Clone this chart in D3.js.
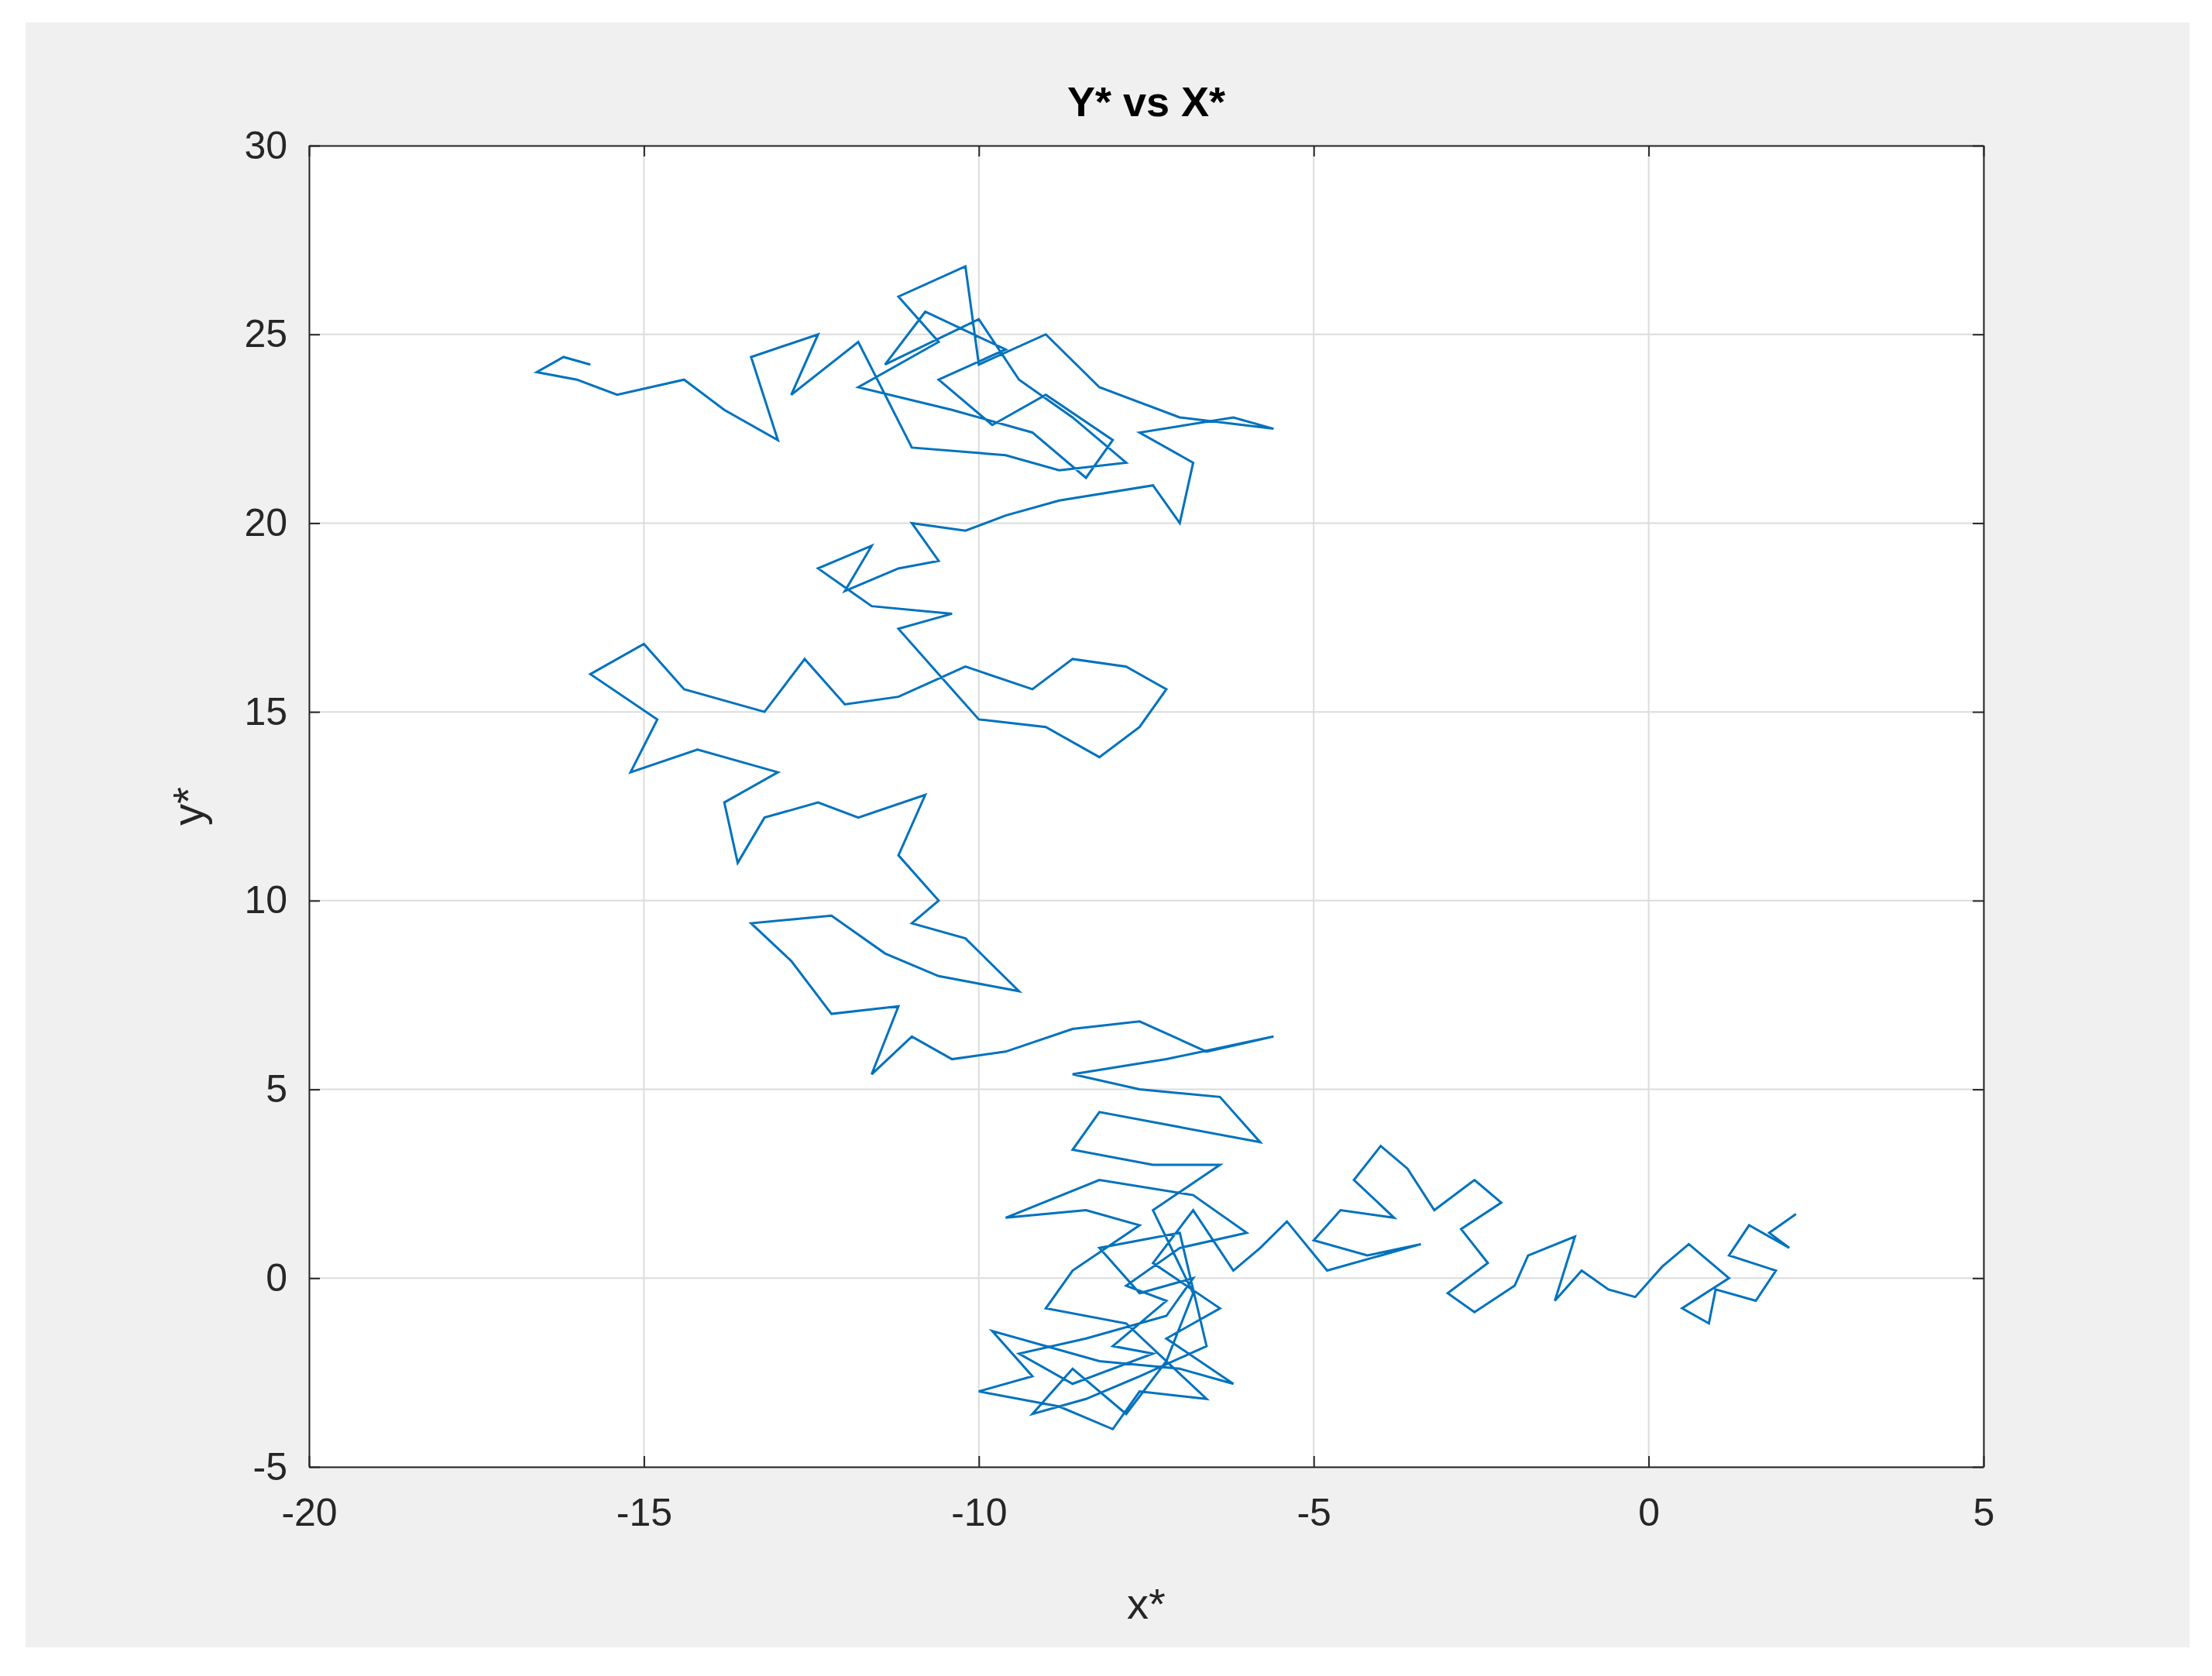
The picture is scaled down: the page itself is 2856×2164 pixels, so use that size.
<!DOCTYPE html><html><head><meta charset="utf-8"><script src="https://cdn.jsdelivr.net/npm/d3@7"></script>
<style>body{margin:0;background:#fff}</style></head><body><svg id="c" width="2856" height="2164"></svg>
<script>
const title="Y* vs X*", xLabel="x*", yLabel="y*";
const xTicks=[-20,-15,-10,-5,0,5], yTicks=[-5,0,5,10,15,20,25,30];
const walk=[[2.2,1.7],[1.8,1.2],[2.1,0.8],[1.5,1.4],[1.2,0.6],[1.9,0.2],[1.6,-0.6],[1.0,-0.3],[0.9,-1.2],[0.5,-0.8],[1.2,0],[0.6,0.9],[0.2,0.3],[-0.2,-0.5],[-0.6,-0.3],[-1.0,0.2],[-1.4,-0.6],[-1.1,1.1],[-1.8,0.6],[-2.0,-0.2],[-2.6,-0.9],[-3.0,-0.4],[-2.4,0.4],[-2.8,1.3],[-2.2,2.0],[-2.6,2.6],[-3.2,1.8],[-3.6,2.9],[-4.0,3.5],[-4.4,2.6],[-3.8,1.6],[-4.6,1.8],[-5.0,1.0],[-4.2,0.6],[-3.4,0.9],[-4.8,0.2],[-5.4,1.5],[-5.8,0.8],[-6.2,0.2],
[-6.8,1.8],[-7.4,0.4],[-6.4,-0.8],[-7.2,-1.6],[-6.2,-2.8],[-7.0,-2.4],[-8.2,-2.2],[-9.8,-1.4],[-9.2,-2.6],[-10.0,-3.0],[-8.8,-3.4],[-8.0,-4.0],[-7.6,-3.0],[-6.6,-3.2],[-7.8,-1.2],[-9.0,-0.8],[-8.6,0.2],[-7.6,1.4],[-8.4,1.8],[-9.6,1.6],[-8.2,2.6],[-6.8,2.2],[-6.0,1.2],
[-7.0,0.8],[-7.8,-0.2],[-7.2,-0.6],[-8.0,-1.8],[-7.4,-2.0],[-8.6,-2.8],[-9.4,-2.0],[-8.4,-1.6],[-7.2,-1.0],[-6.8,0.0],[-7.6,-0.4],[-8.2,0.8],[-7.0,1.2],[-6.6,-1.8],[-7.6,-2.6],[-8.4,-3.2],[-9.2,-3.6],[-8.6,-2.4],[-7.8,-3.6],[-7.2,-2.2],[-6.8,-0.4],[-7.4,1.8],[-6.4,3.0],
[-7.4,3.0],[-8.6,3.4],[-8.2,4.4],[-7.0,4.0],[-5.8,3.6],[-6.4,4.8],[-7.6,5.0],[-8.6,5.4],[-7.2,5.8],[-5.6,6.4],[-6.6,6.0],[-7.6,6.8],[-8.6,6.6],[-9.6,6.0],[-10.4,5.8],[-11.0,6.4],[-11.6,5.4],[-11.2,7.2],[-12.2,7.0],[-12.8,8.4],[-13.4,9.4],[-12.2,9.6],[-11.4,8.6],[-10.6,8.0],[-9.4,7.6],[-10.2,9.0],[-11.0,9.4],[-10.6,10.0],[-11.2,11.2],[-10.8,12.8],[-11.8,12.2],[-12.4,12.6],[-13.2,12.2],[-13.6,11.0],[-13.8,12.6],[-13.0,13.4],[-14.2,14.0],[-15.2,13.4],[-14.8,14.8],[-15.8,16.0],[-15.0,16.8],[-14.4,15.6],[-13.2,15.0],[-12.6,16.4],[-12.0,15.2],[-11.2,15.4],[-10.2,16.2],[-9.2,15.6],[-8.6,16.4],[-7.8,16.2],[-7.2,15.6],[-7.6,14.6],[-8.2,13.8],[-9.0,14.6],[-10.0,14.8],[-10.6,16.0],[-11.2,17.2],[-10.4,17.6],[-11.6,17.8],[-12.4,18.8],[-11.6,19.4],[-12.0,18.2],[-11.2,18.8],[-10.6,19.0],[-11.0,20.0],[-10.2,19.8],[-9.6,20.2],[-8.8,20.6],[-7.4,21.0],[-7.0,20.0],[-6.8,21.6],[-7.6,22.4],[-6.2,22.8],[-5.6,22.5],[-7.0,22.8],[-8.2,23.6],[-9.0,25.0],[-10.0,24.2],[-10.2,26.8],[-11.2,26.0],[-10.6,24.8],[-11.8,23.6],[-10.4,23.0],[-9.2,22.4],[-8.4,21.2],
[-8.0,22.2],[-9.0,23.4],[-9.8,22.6],[-10.6,23.8],[-9.6,24.6],[-10.8,25.6],[-11.4,24.2],[-10.0,25.4],[-9.4,23.8],[-8.6,22.8],[-7.8,21.6],[-8.8,21.4],
[-9.6,21.8],[-11.0,22.0],[-11.8,24.8],[-12.8,23.4],[-12.4,25.0],[-13.4,24.4],[-13.0,22.2],[-13.8,23.0],[-14.4,23.8],[-15.4,23.4],[-16.0,23.8],[-16.6,24.0],[-16.2,24.4],[-15.8,24.2]];
const svg=d3.select("#c");
svg.append("rect").attr("width",2856).attr("height",2164).attr("fill","#fff");
svg.append("rect").attr("x",33).attr("y",29).attr("width",2794).attr("height",2098).attr("fill","#f0f0f0");
const L=399,R=2561,T=188,B=1894;
svg.append("rect").attr("x",L).attr("y",T).attr("width",R-L).attr("height",B-T).attr("fill","#fff");
const x=d3.scaleLinear().domain([-20,5]).range([L,R]);
const y=d3.scaleLinear().domain([-5,30]).range([B,T]);
const g=svg.append("g");
g.selectAll(".gx").data(xTicks).join("line").attr("x1",d=>x(d)).attr("x2",d=>x(d)).attr("y1",T).attr("y2",B).attr("stroke","#dcdcdc").attr("stroke-width",2);
g.selectAll(".gy").data(yTicks).join("line").attr("y1",d=>y(d)).attr("y2",d=>y(d)).attr("x1",L).attr("x2",R).attr("stroke","#dcdcdc").attr("stroke-width",2);
svg.append("path").datum(walk).attr("d",d3.line().x(d=>x(d[0])).y(d=>y(d[1]))).attr("fill","none").attr("stroke","#0072bd").attr("stroke-width",3);
const fmt=d=>String(d);
const xa=svg.append("g").attr("transform",`translate(0,${B})`).call(d3.axisBottom(x).tickValues(xTicks).tickSize(-14).tickSizeOuter(0).tickFormat(fmt));
const xt=svg.append("g").attr("transform",`translate(0,${T})`).call(d3.axisTop(x).tickValues(xTicks).tickSize(-14).tickSizeOuter(0).tickFormat(""));
const ya=svg.append("g").attr("transform",`translate(${L},0)`).call(d3.axisLeft(y).tickValues(yTicks).tickSize(-14).tickSizeOuter(0).tickFormat(fmt));
const yr=svg.append("g").attr("transform",`translate(${R},0)`).call(d3.axisRight(y).tickValues(yTicks).tickSize(-14).tickSizeOuter(0).tickFormat(""));
[xa,xt,ya,yr].forEach(a=>{a.selectAll("path,line").attr("stroke","#262626").attr("stroke-width",2);a.selectAll("text").attr("font-family","Arial, Liberation Sans").attr("font-size",50).attr("fill","#262626");});
xa.selectAll("text").attr("y",40).attr("dy","0.71em");
ya.selectAll("text").attr("x",-28);
svg.append("text").attr("x",(L+R)/2).attr("y",150).attr("text-anchor","middle").attr("font-family","Arial, Liberation Sans").attr("font-weight","bold").attr("font-size",54).attr("fill","#000").text(title);
svg.append("text").attr("x",(L+R)/2).attr("y",2090).attr("text-anchor","middle").attr("font-family","Arial, Liberation Sans").attr("font-size",56).attr("fill","#262626").text(xLabel);
svg.append("text").attr("transform",`translate(262,${(T+B)/2}) rotate(-90)`).attr("text-anchor","middle").attr("font-family","Arial, Liberation Sans").attr("font-size",56).attr("fill","#262626").text(yLabel);
</script></body></html>
